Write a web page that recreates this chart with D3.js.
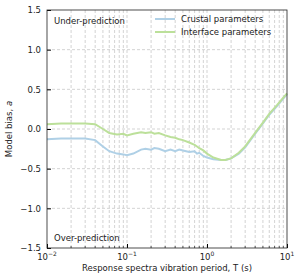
<!DOCTYPE html>
<html>
<head>
<meta charset="utf-8">
<script src="https://cdn.jsdelivr.net/npm/d3@7"></script>
<style>
  body { margin: 0; background: #fff; }
  text { font-family: "DejaVu Sans", sans-serif; }
</style>
</head>
<body>
<div id="chart"></div>
<script>
// Dữ liệu
const periods = [0.01, 0.015, 0.02, 0.03, 0.04, 0.05, 0.06, 0.075, 0.09, 0.1, 0.12, 0.15, 0.17, 0.2, 0.22, 0.25, 0.3, 0.35, 0.4, 0.45, 0.5, 0.6, 0.7, 0.75, 0.8, 0.9, 1.0, 1.2, 1.5, 1.7, 2.0, 2.5, 3.0, 4.0, 5.0, 6.0, 7.5, 10.0];
const crustal = [-0.13, -0.12, -0.12, -0.12, -0.14, -0.22, -0.28, -0.31, -0.32, -0.33, -0.31, -0.26, -0.25, -0.26, -0.24, -0.25, -0.28, -0.26, -0.28, -0.26, -0.27, -0.29, -0.28, -0.31, -0.30, -0.34, -0.36, -0.38, -0.39, -0.39, -0.37, -0.31, -0.23, -0.06, 0.07, 0.18, 0.29, 0.44];
const interfaceP = [0.06, 0.07, 0.07, 0.07, 0.06, 0.0, -0.05, -0.07, -0.06, -0.08, -0.06, -0.04, -0.05, -0.04, -0.06, -0.05, -0.08, -0.10, -0.11, -0.13, -0.14, -0.17, -0.20, -0.22, -0.24, -0.27, -0.31, -0.36, -0.39, -0.39, -0.37, -0.30, -0.22, -0.05, 0.08, 0.19, 0.30, 0.45];
const seriesNames = ["Crustal parameters", "Interface parameters"];
const seriesColors = ["#afd0e6", "#bce09a"];
const yTicks = [-1.5, -1.0, -0.5, 0.0, 0.5, 1.0, 1.5];
const xTickExp = [-2, -1, 0, 1];

const width = 295, height = 276;
const margin = { top: 10, right: 8, bottom: 28, left: 47 };

const svg = d3.select("#chart").append("svg")
    .attr("width", width).attr("height", height);

const x = d3.scaleLog().domain([0.01, 10]).range([margin.left, width - margin.right]);
const y = d3.scaleLinear().domain([-1.5, 1.5]).range([height - margin.bottom, margin.top]);

// Lưới phụ và chính
const minor = [];
for (let e = -2; e < 1; e++) for (let k = 2; k <= 9; k++) minor.push(k * Math.pow(10, e));
const majors = xTickExp.map(e => Math.pow(10, e));

svg.append("g").selectAll("line").data(minor.concat(majors.slice(1, -1))).enter().append("line")
    .attr("x1", d => x(d)).attr("x2", d => x(d))
    .attr("y1", y(-1.5)).attr("y2", y(1.5))
    .attr("stroke", "#c8c8c8").attr("stroke-width", 0.8)
    .attr("stroke-dasharray", "3,2");

svg.append("g").selectAll("line").data(yTicks.slice(1, -1)).enter().append("line")
    .attr("x1", x(0.01)).attr("x2", x(10))
    .attr("y1", d => y(d)).attr("y2", d => y(d))
    .attr("stroke", "#c8c8c8").attr("stroke-width", 0.8)
    .attr("stroke-dasharray", "3,2");

// Đường dữ liệu
const line = d3.line().x(d => x(d[0])).y(d => y(d[1]));
[crustal, interfaceP].forEach((s, i) => {
    svg.append("path")
        .datum(periods.map((p, j) => [p, s[j]]))
        .attr("d", line)
        .attr("fill", "none")
        .attr("stroke", seriesColors[i])
        .attr("stroke-width", 2);
});

// Trục
const xAxis = svg.append("g")
    .attr("transform", `translate(0,${y(-1.5)})`)
    .call(d3.axisBottom(x).tickValues(majors).tickSize(-4).tickFormat(""));
xAxis.append("g").selectAll("line").data(minor).enter().append("line")
    .attr("x1", d => x(d)).attr("x2", d => x(d))
    .attr("y1", 0).attr("y2", -2).attr("stroke", "#000").attr("stroke-width", 0.6);
xAxis.select(".domain").remove();

majors.forEach((v, i) => {
    const t = svg.append("text")
        .attr("x", x(v)).attr("y", y(-1.5) + 12)
        .attr("text-anchor", "middle").attr("font-size", 8.5).attr("fill", "#222");
    t.append("tspan").text("10");
    t.append("tspan").attr("dy", -4).attr("font-size", 6).text(xTickExp[i] < 0 ? "\u2212" + (-xTickExp[i]) : xTickExp[i]);
});

const yAxis = svg.append("g")
    .attr("transform", `translate(${margin.left},0)`)
    .call(d3.axisLeft(y).tickValues(yTicks).tickSize(-4).tickPadding(6)
        .tickFormat(d => d3.format(".1f")(d).replace("-", "\u2212")));
yAxis.select(".domain").remove();
yAxis.selectAll("text").attr("font-size", 8.5).attr("fill", "#222").attr("font-family", "DejaVu Sans");

svg.append("rect")
    .attr("x", margin.left).attr("y", margin.top)
    .attr("width", width - margin.left - margin.right)
    .attr("height", height - margin.top - margin.bottom)
    .attr("fill", "none").attr("stroke", "#222").attr("stroke-width", 0.8);

// Chú thích
seriesNames.forEach((n, i) => {
    const ly = 19 + i * 13;
    svg.append("line").attr("x1", 155).attr("x2", 175).attr("y1", ly).attr("y2", ly)
        .attr("stroke", seriesColors[i]).attr("stroke-width", 2);
    svg.append("text").attr("x", 181).attr("y", ly + 3).attr("font-size", 8.5).attr("fill", "#222").text(n);
});

svg.append("text").attr("x", 54).attr("y", 24).attr("font-size", 8.5).attr("fill", "#222").text("Under-prediction");
svg.append("text").attr("x", 54).attr("y", 241).attr("font-size", 8.5).attr("fill", "#222").text("Over-prediction");

svg.append("text")
    .attr("x", (margin.left + width - margin.right) / 2).attr("y", 271)
    .attr("text-anchor", "middle").attr("font-size", 8.5).attr("fill", "#222")
    .text("Response spectra vibration period, T (s)");

const yl = svg.append("text")
    .attr("transform", `translate(12,${(margin.top + height - margin.bottom) / 2}) rotate(-90)`)
    .attr("text-anchor", "middle").attr("font-size", 8.5).attr("fill", "#222");
yl.append("tspan").text("Model bias, ");
yl.append("tspan").attr("font-style", "italic").text("a");
</script>
</body>
</html>
